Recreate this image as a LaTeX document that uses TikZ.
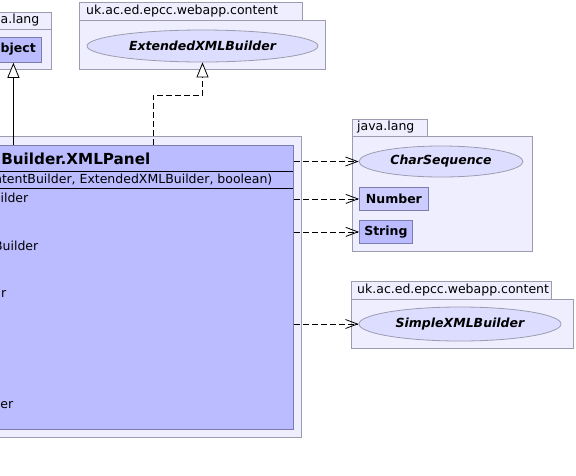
\documentclass[tikz,border=0pt]{standalone}
\usepackage{fontspec}
\setmainfont{DejaVu Sans}
\usetikzlibrary{arrows.meta,shapes.geometric}
\definecolor{pkgfill}{HTML}{EEEEFF}
\definecolor{pkgline}{HTML}{9C9CB0}
\definecolor{clsfill}{HTML}{BBBBFF}
\definecolor{clsline}{HTML}{7C7CB0}
\definecolor{ifill}{HTML}{DDDDFF}
\definecolor{numfill}{HTML}{CCCCFF}
\newcommand\pfont{\fontsize{12.5}{14.5}\selectfont}
\newcommand\hfont{\fontsize{15.2}{18}\selectfont\bfseries}
\begin{document}
\begin{tikzpicture}[x=1pt,y=-1pt,
  pkgbox/.style={draw=pkgline, fill=pkgfill, line width=0.8pt, rectangle, inner sep=0pt, anchor=north west},
  clsbox/.style={draw=clsline, fill=clsfill, line width=0.8pt, rectangle, inner sep=0pt, anchor=north west},
  ifbox/.style={draw=pkgline, fill=ifill, line width=0.8pt, ellipse, inner sep=0pt, font=\pfont\bfseries\itshape},
  txt/.style={inner sep=0pt, font=\pfont},
  dep/.style={line width=0.8pt, dash pattern=on 6pt off 3pt, -{Straight Barb[length=12pt,width=9pt]}},
  gen/.style={line width=0.8pt, -{Triangle[open,length=15pt,width=12pt,fill=white]}}
]
\useasboundingbox (0,0) rectangle (576,475);
% top-left package java.lang
\node[pkgbox, minimum width=71pt, minimum height=17pt] (tlTab) at (-20,12) {};
\node[pkgbox, minimum width=71pt, minimum height=40pt] (tlPkg) at (-20,29) {};
\node[txt, anchor=west] (tlLbl) at (0.5,20.5) {a.lang};
\node[clsbox, minimum width=56pt, minimum height=25pt] (obj) at (-15,37) {};
\node[txt, font=\pfont\bfseries, anchor=west] (objLbl) at (0.5,49.5) {bject};
% top package uk.ac.ed.epcc.webapp.content
\node[pkgbox, minimum width=223pt, minimum height=18pt] (tTab) at (79,2) {};
\node[pkgbox, minimum width=246pt, minimum height=49pt] (tPkg) at (79,20) {};
\node[txt, anchor=west] (tLbl) at (86,11) {uk.ac.ed.epcc.webapp.content};
\node[ifbox, minimum width=231pt, minimum height=32pt] (ext) at (202.5,46) {ExtendedXMLBuilder};
% main class
\node[pkgbox, minimum width=311pt, minimum height=301pt] (mPkg) at (-10,136) {};
\node[clsbox, minimum width=303pt, minimum height=284pt] (cls) at (-10,145) {};
\draw[line width=0.8pt] (-10,171) -- (293,171);
\draw[line width=0.8pt] (-10,188) -- (293,188);
\node[inner sep=0pt, font=\hfont, anchor=east] (clsName) at (150.5,158.5) {Builder.XMLPanel};
\node[txt, anchor=east] (ctor) at (272.5,180) {ntentBuilder, ExtendedXMLBuilder, boolean)};
\node[txt, anchor=east] (f1) at (28.5,198) {uilder};
\node[txt, anchor=east] (f2) at (38.5,246) {Builder};
\node[txt, anchor=east] (f3) at (6.5,294) {r};
\node[txt, anchor=east] (f4) at (13.5,405) {er};
% right package java.lang
\node[pkgbox, minimum width=75pt, minimum height=17pt] (rTab) at (352,119) {};
\node[pkgbox, minimum width=180pt, minimum height=115pt] (rPkg) at (352,136) {};
\node[txt, anchor=west] (rLbl) at (357,127.5) {java.lang};
\node[ifbox, minimum width=164pt, minimum height=31pt] (cs) at (441,161.5) {CharSequence};
\node[clsbox, fill=numfill, minimum width=69pt, minimum height=23pt, font=\pfont\bfseries] (num) at (359,187) {Number};
\node[clsbox, minimum width=53pt, minimum height=23pt, font=\pfont\bfseries] (str) at (359,220) {String};
% bottom-right package
\node[pkgbox, minimum width=200pt, minimum height=18pt] (bTab) at (351,281) {};
\node[pkgbox, minimum width=222pt, minimum height=49pt] (bPkg) at (351,299) {};
\node[txt, anchor=west] (bLbl) at (357,290) {uk.ac.ed.epcc.webapp.content};
\node[ifbox, minimum width=202pt, minimum height=34pt] (sxb) at (460,324) {SimpleXMLBuilder};
% connectors
\coordinate (bend) at (153,95);
\draw[gen] (obj.south |- cls.north) -- (obj.south);
\draw[dep, -{Triangle[open,length=15pt,width=12pt,fill=white]}] (cls.north -| bend) -- (bend) -| (ext.south);
\draw[dep] (cls.east |- cs) -- (cs.west);
\draw[dep] (cls.east |- num) -- (num.west);
\draw[dep] (cls.east |- str) -- (str.west);
\draw[dep] (cls.east |- sxb) -- (sxb.west);
\end{tikzpicture}
\end{document}
